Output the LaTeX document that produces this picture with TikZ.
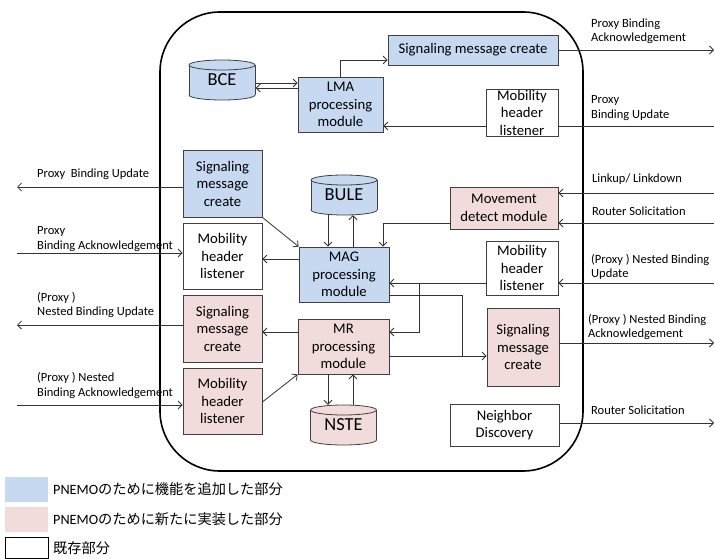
\documentclass[tikz,border=0pt]{standalone}
\usepackage{fontspec}
\setmainfont{Carlito}
\newfontfamily\jp{Noto Sans CJK JP}
\usetikzlibrary{arrows.meta}
\definecolor{myblue}{RGB}{198,217,241}
\definecolor{mypink}{RGB}{242,220,219}
\newcommand\mycyl[3]{%
\begin{scope}[shift={(#1,#2)}]
 \filldraw[draw=black!75, line width=0.8pt, fill=#3] (0,15) ellipse [x radius=33pt, y radius=5pt];
 \fill[#3] (-33,-15) rectangle (33,15);
 \draw[draw=black!75, line width=0.8pt] (-33,-15) -- (-33,15) (33,-15) -- (33,15);
 \filldraw[draw=black!75, line width=0.8pt, fill=#3] (0,-15) ellipse [x radius=33pt, y radius=5pt];
\end{scope}}
\begin{document}
\begin{tikzpicture}[x=1pt,y=-1pt,
 box/.style={draw=black!75, line width=0.8pt, inner sep=0pt, align=center, font=\fontsize{14.7}{17.5}\selectfont},
 blu/.style={box, fill=myblue},
 pnk/.style={box, fill=mypink},
 wht/.style={box, fill=white},
 cyltxt/.style={inner sep=0pt, minimum width=67pt, minimum height=40pt, font=\fontsize{18.4}{20}\selectfont},
 lbl/.style={anchor=west, align=left, inner sep=0pt, font=\fontsize{12.5}{14.5}\selectfont},
 conn/.style={draw=black!80, line width=0.8pt},
 arr/.style={conn, -{Straight Barb[length=4pt,width=8pt]}},
 legtxt/.style={anchor=west, inner sep=0pt, font=\fontsize{14.2}{16}\selectfont}]
\useasboundingbox (0,0) rectangle (715,559);
% outer rounded frame
\draw[line width=1.6pt, rounded corners=60pt] (160,12) rectangle (583,471);
% cylinders
\mycyl{222}{80}{myblue}
\mycyl{344}{195}{myblue}
\mycyl{343.5}{425}{mypink}
\node[cyltxt] (bce) at (222,80) {\raisebox{-3pt}{BCE}};
\node[cyltxt] (bule) at (344,195) {\raisebox{-3pt}{BULE}};
\node[cyltxt] (nste) at (343.5,425) {\raisebox{-3pt}{NSTE}};
% boxes
\node[blu, minimum width=85pt, minimum height=55pt] (lma) at (340.5,104.5) {LMA\\processing\\module};
\node[blu, minimum width=170pt, minimum height=30pt] (sigt) at (473,50) {Signaling message create};
\node[wht, minimum width=72pt, minimum height=47pt] (mhlt) at (522,112.5) {Mobility\\header\\listener};
\node[blu, minimum width=79pt, minimum height=67pt] (sigl1) at (222.5,183.5) {Signaling\\message\\create};
\node[wht, minimum width=79pt, minimum height=66pt] (mhll1) at (222.5,256) {Mobility\\header\\listener};
\node[blu, minimum width=90pt, minimum height=55pt] (mag) at (344,274.5) {MAG\\processing\\module};
\node[pnk, minimum width=108pt, minimum height=42pt] (mdm) at (504,208) {Movement\\detect module};
\node[wht, minimum width=72pt, minimum height=54pt] (mhlr) at (522,268) {Mobility\\header\\listener};
\node[pnk, minimum width=91pt, minimum height=55pt] (mr) at (343.5,346.5) {MR\\processing\\module};
\node[pnk, minimum width=79pt, minimum height=67pt] (sigl2) at (222.5,328.5) {Signaling\\message\\create};
\node[pnk, minimum width=79pt, minimum height=66pt] (mhll2) at (222.5,401) {Mobility\\header\\listener};
\node[pnk, minimum width=72pt, minimum height=78pt] (sigr) at (523,347) {Signaling\\message\\create};
\node[wht, minimum width=109pt, minimum height=42pt] (nd) at (504.5,425) {Neighbor\\Discovery};
% edge coordinates
\coordinate (R) at (714,0);
\coordinate (L) at (17,0);
\coordinate (b1) at (419,283);
\coordinate (b2) at (462,356);
% connectors
\draw[arr] (bce.east |- 0,83) -- (lma.west |- 0,83);
\draw[arr] (lma.west |- 0,88) -- (bce.east |- 0,88);
\draw[arr] (lma.north) |- (sigt.west |- 0,60);
\draw[arr] (sigt.east) -- (R |- sigt.east);
\draw[conn] (R |- 0,126) -- (mhlt.east |- 0,126);
\draw[arr] (mhlt.west |- 0,126) -- (lma.east |- 0,126);
\draw[arr] (sigl1.west |- 0,187) -- (L |- 0,187);
\draw[arr] (L |- 0,253) -- (mhll1.west |- 0,253);
\draw[arr] (sigl1.south east) -- (mag.north west);
\draw[arr] (mag.west |- 0,259) -- (mhll1.east |- 0,259);
\draw[arr] (bule.south -| 328,0) -- (mag.north -| 328,0);
\draw[arr] (mag.north -| 353,0) -- (bule.south -| 353,0);
\draw[arr] (mdm.west |- 0,223) -| (mag.north -| 383,0);
\draw[arr] (R |- 0,193) -- (mdm.east |- 0,193);
\draw[arr] (R |- 0,223) -- (mdm.east |- 0,223);
\draw[arr] (R |- 0,283) -- (mhlr.east |- 0,283);
\draw[arr] (mhlr.west |- 0,283) -- (mag.east |- 0,283);
\draw[arr] (b1) |- (mr.east |- 0,332);
\draw[conn] (mag.east |- 0,295) -| (b2);
\draw[arr] (mr.east |- 0,356) -- (sigr.west |- 0,356);
\draw[arr] (mr.west |- 0,332) -- (sigl2.east |- 0,332);
\draw[arr] (sigl2.west |- 0,325) -- (L |- 0,325);
\draw[arr] (L |- 0,405) -- (mhll2.west |- 0,405);
\draw[arr] (mhll2.east |- 0,402) -- (mr.south west);
\draw[arr] (mr.south -| 328,0) -- (nste.north -| 328,0);
\draw[arr] (nste.north -| 353,0) -- (mr.south -| 353,0);
\draw[arr] (sigr.east |- 0,343) -- (R |- 0,343);
\draw[arr] (nd.east |- 0,423) -- (R |- 0,423);
% labels
\node[lbl] (t1) at (591,31) {Proxy Binding\\Acknowledgement};
\node[lbl] (t2) at (591,108) {Proxy\\Binding Update};
\node[lbl] (t3) at (592,179) {Linkup/ Linkdown};
\node[lbl] (t4) at (592,211) {Router Solicitation};
\node[lbl] (t5) at (591,267) {(Proxy ) Nested Binding\\Update};
\node[lbl] (t6) at (588,327) {(Proxy ) Nested Binding\\Acknowledgement};
\node[lbl] (t7) at (591,410) {Router Solicitation};
\node[lbl] (t8) at (37,174) {Proxy\ \ Binding Update};
\node[lbl] (t9) at (37,239) {Proxy\\Binding Acknowledgement};
\node[lbl] (t10) at (37,305) {(Proxy )\\Nested Binding Update};
\node[lbl] (t11) at (37,385.5) {(Proxy ) Nested\\Binding Acknowledgement};
% legend
\fill[myblue] (5,477) rectangle (48,502);
\fill[mypink] (5,507) rectangle (48,532);
\draw[black, line width=0.8pt] (5,537) rectangle (48,558.6);
\node[legtxt] (lg1) at (53,489.5) {PNEMO{\jp のために機能を追加した部分}};
\node[legtxt] (lg2) at (53,519.5) {PNEMO{\jp のために新たに実装した部分}};
\node[legtxt] (lg3) at (53,548) {{\jp 既存部分}};
\end{tikzpicture}
\end{document}
